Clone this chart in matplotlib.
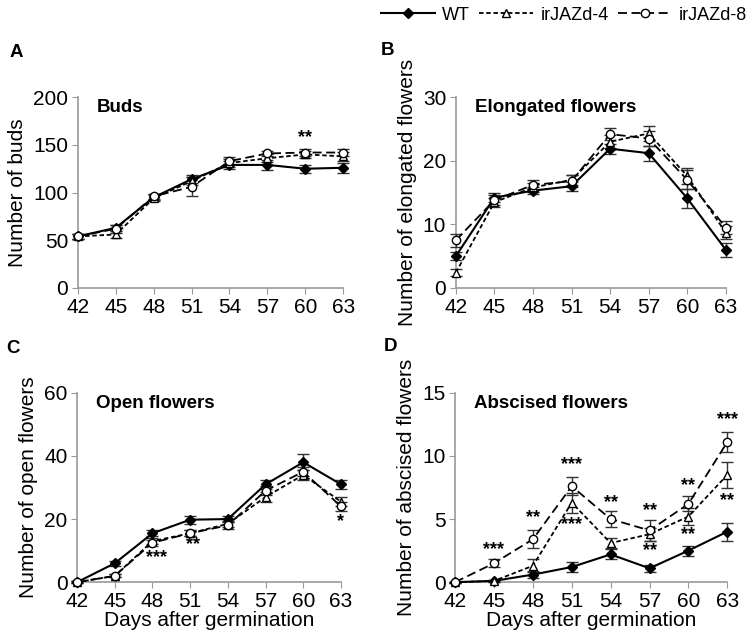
import matplotlib
matplotlib.use("Agg")
import matplotlib.pyplot as plt
from matplotlib.lines import Line2D

plt.rcParams['font.family'] = ['Liberation Sans', 'DejaVu Sans']

days = [42, 45, 48, 51, 54, 57, 60, 63]

# Buds
buds_wt = [54, 63, 95, 114, 129, 129, 125, 126]
buds_j4 = [54, 56, 94, 112, 131, 136, 140, 138]
buds_j8 = [54, 62, 96, 106, 133, 141, 142, 142]
buds_wt_err = [3, 3, 3, 4, 4, 5, 4, 5]
buds_j4_err = [3, 4, 3, 4, 4, 4, 4, 5]
buds_j8_err = [3, 4, 3, 10, 4, 3, 4, 4]

# Elongated flowers
elong_wt = [5.0, 14.2, 15.3, 16.0, 21.9, 21.2, 14.1, 6.0]
elong_j4 = [2.4, 13.5, 15.8, 17.0, 23.0, 24.3, 17.6, 8.7]
elong_j8 = [7.5, 13.8, 16.2, 16.8, 24.2, 23.5, 17.0, 9.5]
elong_wt_err = [0.6, 0.7, 0.6, 0.7, 0.8, 1.2, 1.5, 1.1]
elong_j4_err = [0.6, 0.7, 0.7, 0.8, 1.0, 1.2, 1.2, 1.0]
elong_j8_err = [1.0, 0.8, 0.8, 1.0, 1.0, 1.2, 1.5, 1.0]

# Open flowers
open_wt = [0, 6, 15.5, 19.8, 20, 31, 38, 31]
open_j4 = [0, 2, 13, 15.5, 18.5, 27, 34, 25.5]
open_j8 = [0, 2, 12.5, 15.5, 18, 29, 35, 24]
open_wt_err = [0.3, 0.8, 1.0, 1.3, 1.0, 1.5, 2.5, 1.5]
open_j4_err = [0.3, 0.5, 1.0, 1.0, 1.0, 1.5, 1.5, 1.5]
open_j8_err = [0.3, 0.5, 1.0, 1.0, 1.0, 1.5, 1.5, 1.5]

# Abscised flowers
absc_wt = [0, 0.1, 0.6, 1.2, 2.2, 1.1, 2.5, 4.0]
absc_j4 = [0, 0.1, 1.3, 6.3, 3.1, 3.8, 5.2, 8.5]
absc_j8 = [0, 1.5, 3.4, 7.6, 5.0, 4.1, 6.2, 11.1]
absc_wt_err = [0.05, 0.1, 0.3, 0.4, 0.4, 0.3, 0.4, 0.7]
absc_j4_err = [0.05, 0.1, 0.5, 0.8, 0.4, 0.5, 0.7, 1.0]
absc_j8_err = [0.05, 0.3, 0.7, 0.7, 0.6, 0.8, 0.6, 0.8]

# significance stars: (day, y, text)
stars_a = [(60, 158, '**')]
stars_b = []
stars_c = [(48.3, 7.8, '***'), (51.2, 11.8, '**'), (63, 19.2, '*')]
stars_d = [(45, 2.6, '***'), (48, 5.1, '**'), (51, 9.3, '***'), (51, 4.6, '***'),
           (54, 6.3, '**'), (57, 5.7, '**'), (57, 2.5, '**'), (60, 7.65, '**'),
           (60, 3.8, '**'), (63, 12.9, '***'), (63, 6.5, '**')]

styles = {
    'wt': dict(color='black', marker='D', markersize=5, markerfacecolor='black',
               linestyle='-', linewidth=1.5),
    'j4': dict(color='black', marker='^', markersize=6, markerfacecolor='white',
               linestyle=(0, (2.5, 1.5)), linewidth=1.3),
    'j8': dict(color='black', marker='o', markersize=6, markerfacecolor='white',
               linestyle=(0, (5, 2.5)), linewidth=1.3),
}

panels = [
    ('Buds', 'Number of buds', [0.103, 0.553, 0.351, 0.296], (0, 200, 50),
     [(buds_wt, buds_wt_err, 'wt'), (buds_j4, buds_j4_err, 'j4'), (buds_j8, buds_j8_err, 'j8')],
     stars_a, False),
    ('Elongated flowers', 'Number of elongated flowers', [0.603, 0.553, 0.357, 0.296], (0, 30, 10),
     [(elong_wt, elong_wt_err, 'wt'), (elong_j4, elong_j4_err, 'j4'), (elong_j8, elong_j8_err, 'j8')],
     stars_b, False),
    ('Open flowers', 'Number of open flowers', [0.102, 0.096, 0.349, 0.294], (0, 60, 20),
     [(open_wt, open_wt_err, 'wt'), (open_j4, open_j4_err, 'j4'), (open_j8, open_j8_err, 'j8')],
     stars_c, True),
    ('Abscised flowers', 'Number of abscised flowers', [0.602, 0.096, 0.360, 0.294], (0, 15, 5),
     [(absc_wt, absc_wt_err, 'wt'), (absc_j4, absc_j4_err, 'j4'), (absc_j8, absc_j8_err, 'j8')],
     stars_d, True),
]

fig = plt.figure(figsize=(7.56, 6.44), dpi=100)

for title, ylabel, rect, (ymin, ymax, ystep), series, stars, xlab in panels:
    ax = fig.add_axes(rect)
    for vals, errs, key in series:
        ax.errorbar(days, vals, yerr=errs, capsize=4, elinewidth=1.0, ecolor='#333333',
                    capthick=1.0, clip_on=False, zorder=3, **styles[key])
    ax.set_xlim(42, 63)
    ax.set_ylim(ymin, ymax)
    ax.set_xticks(days)
    ax.set_yticks(range(ymin, ymax + 1, ystep))
    for s in ['top', 'right']:
        ax.spines[s].set_visible(False)
    for s in ['left', 'bottom']:
        ax.spines[s].set_color('#999999')
        ax.spines[s].set_linewidth(1.2)
    ax.tick_params(axis='both', labelsize=15, color='#999999', length=4,
                   direction='out', pad=3)
    ax.set_ylabel(ylabel, fontsize=15, labelpad=4)
    if xlab:
        ax.set_xlabel('Days after germination', fontsize=15, labelpad=0)
    ax.text(0.07, 0.99, title, transform=ax.transAxes, fontsize=13.5, fontweight='bold',
            va='top', ha='left')
    for d, y, t in stars:
        ax.text(d, y, t, fontsize=13, fontweight='bold', ha='center', va='center')

fig.text(0.013, 0.912, 'A', fontsize=13.5, fontweight='bold')
fig.text(0.503, 0.915, 'B', fontsize=13.5, fontweight='bold')
fig.text(0.008, 0.452, 'C', fontsize=13.5, fontweight='bold')
fig.text(0.507, 0.455, 'D', fontsize=13.5, fontweight='bold')

handles = [Line2D([], [], **styles['wt']), Line2D([], [], **styles['j4']),
           Line2D([], [], **styles['j8'])]
fig.legend(handles, ['WT', 'irJAZd-4', 'irJAZd-8'], loc='upper right',
           bbox_to_anchor=(1.01, 1.015), ncol=3, frameon=False, fontsize=13,
           handlelength=3, columnspacing=0.5, handletextpad=0.4)

fig.savefig('out.png', dpi=100)
